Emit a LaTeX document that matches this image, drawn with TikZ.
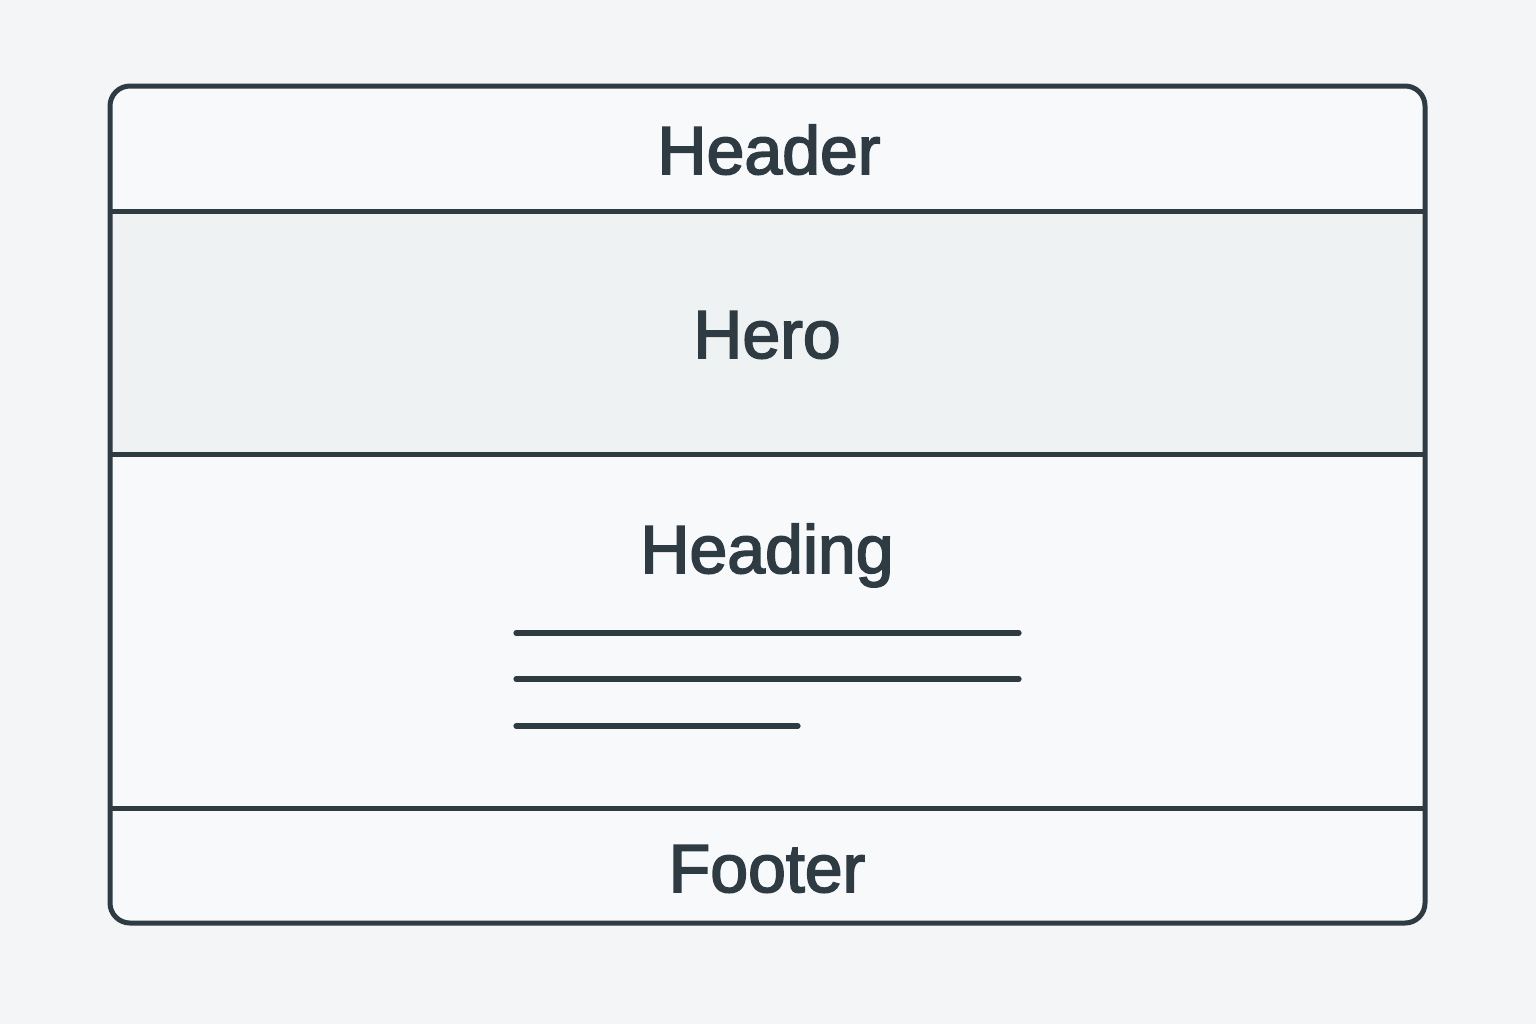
\documentclass[tikz,border=0pt]{standalone}
\usepackage{fontspec}
\setmainfont{Liberation Sans}
\newfontfamily\lblfont{Liberation Sans}[FakeBold=2.5]
\definecolor{bgcol}{HTML}{F3F5F6}
\definecolor{panel}{HTML}{F8F9FA}
\definecolor{herocol}{HTML}{EFF2F3}
\definecolor{ink}{HTML}{2E3B43}
\begin{document}
\begin{tikzpicture}[x=0.5pt,y=-0.5pt,
  frame/.style={draw=ink,line width=2.5pt},
  divider/.style={draw=ink,line width=2.5pt},
  textline/.style={draw=ink,line width=2.6pt,line cap=round},
  label/.style={text=ink,font=\lblfont\fontsize{34}{40}\selectfont,anchor=base,inner sep=0pt}]
\fill[bgcol] (0,0) rectangle (1536,1024);
\useasboundingbox (0,0) rectangle (1536,1024);
% panel
\fill[panel,rounded corners=10pt] (110,86) rectangle (1425,923);
\fill[herocol] (110,211) rectangle (1425,454);
\coordinate (hL) at (110,211); \coordinate (hR) at (1425,211);
\coordinate (mL) at (110,454); \coordinate (mR) at (1425,454);
\coordinate (fL) at (110,808); \coordinate (fR) at (1425,808);
\draw[divider] (hL) -- (hR);
\draw[divider] (mL) -- (mR);
\draw[divider] (fL) -- (fR);
\draw[frame,rounded corners=10pt] (110,86) rectangle (1425,923);
% labels
\node[label] (header) at (769,174) {Header};
\node[label] (hero) at (767,358) {Hero};
\node[label] (heading) at (767,573) {Heading};
\node[label] (footer) at (767,892) {Footer};
% text lines
\coordinate (l1a) at (516,633); \coordinate (l1b) at (1019,633);
\coordinate (l2a) at (516,679); \coordinate (l2b) at (1019,679);
\coordinate (l3a) at (516,726); \coordinate (l3b) at (798,726);
\draw[textline] (l1a) -- (l1b);
\draw[textline] (l2a) -- (l2b);
\draw[textline] (l3a) -- (l3b);
\end{tikzpicture}
\end{document}
